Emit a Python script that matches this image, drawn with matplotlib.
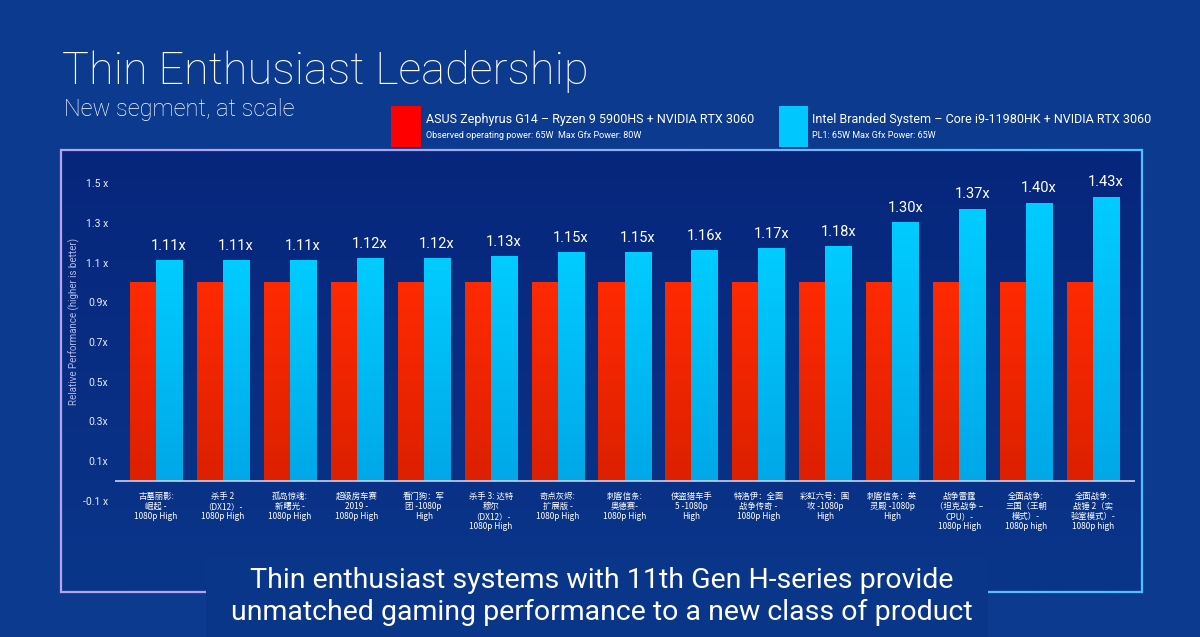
import numpy as np
import matplotlib.pyplot as plt
from matplotlib.patches import Rectangle
from matplotlib.colors import LinearSegmentedColormap, to_rgb

# ---------- Datos ----------
games = [
    "古墓丽影:\n崛起 -\n1080p High",
    "杀手 2\n（DX12）-\n1080p High",
    "孤岛惊魂:\n新曙光 -\n1080p High",
    "超级房车赛\n2019 -\n1080p High",
    "看门狗：军\n团 -1080p\nHigh",
    "杀手 3: 达特\n穆尔\n（DX12）-\n1080p High",
    "奇点灰烬:\n扩展版 -\n1080p High",
    "刺客信条:\n奥德赛-\n1080p High",
    "侠盗猎车手\n5 -1080p\nHigh",
    "特洛伊：全面\n战争传奇 -\n1080p High",
    "彩虹六号：围\n攻 -1080p\nHigh",
    "刺客信条：英\n灵殿 -1080p\nHigh",
    "战争雷霆\n（坦克战争 –\nCPU）-\n1080p High",
    "全面战争:\n三国（王朝\n模式）-\n1080p high",
    "全面战争:\n战锤 2（实\n验室模式）-\n1080p high",
]
asus_perf = [1.00, 1.00, 1.00, 1.00, 1.00, 1.00, 1.00, 1.00,
             1.00, 1.00, 1.00, 1.00, 1.00, 1.00, 1.00]
intel_perf = [1.11, 1.11, 1.11, 1.12, 1.12, 1.13, 1.15, 1.15,
              1.16, 1.17, 1.18, 1.30, 1.37, 1.40, 1.43]
ytick_vals = [-0.1, 0.1, 0.3, 0.5, 0.7, 0.9, 1.1, 1.3, 1.5]
ytick_labels = ["-0.1 x", "0.1x", "0.3x", "0.5x", "0.7x", "0.9x", "1.1 x", "1.3 x", "1.5 x"]

# ---------- Colores ----------
bg_out = "#0b3a8e"
bg_in_top, bg_in_bot = "#06267c", "#0a368a"
red_top, red_bot = "#ff2a00", "#dc2000"
blue_top, blue_bot = "#00ccff", "#00a8e8"
cjk = ["Noto Sans CJK SC", "DejaVu Sans"]
sans = ["Roboto", "DejaVu Sans"]

W, H = 1200, 637
fig = plt.figure(figsize=(12, 6.37), dpi=100)
fig.patch.set_facecolor(bg_out)

# ---------- Fondo / marco (coordenadas en pixeles) ----------
bg = fig.add_axes([0, 0, 1, 1])
bg.set_xlim(0, W)
bg.set_ylim(H, 0)
bg.axis("off")

fx0, fy0, fx1, fy1 = 61, 150, 1142, 592
inner = LinearSegmentedColormap.from_list("inner", [bg_in_top, bg_in_bot])
bg.imshow(np.linspace(0, 1, 128).reshape(-1, 1), cmap=inner, aspect="auto",
          extent=[fx0, fx1, fy1, fy0], zorder=1)
bg.set_xlim(0, W)
bg.set_ylim(H, 0)

lav = np.array(to_rgb("#b8a2ee"))
cyan = np.array(to_rgb("#49c2ff"))
n = 200
xs = np.linspace(fx0, fx1, n + 1)
for k in range(n):
    c = lav + (cyan - lav) * (k / n) ** 1.5
    bg.plot(xs[k:k + 2], [fy0, fy0], color=c, lw=1.6, solid_capstyle="butt", zorder=2)
    bg.plot(xs[k:k + 2], [fy1, fy1], color=c, lw=1.6, solid_capstyle="butt", zorder=2)
bg.plot([fx0, fx0], [fy0, fy1], color=lav, lw=1.6, zorder=2)
bg.plot([fx1, fx1], [fy0, fy1], color=cyan, lw=1.6, zorder=2)

# caja del texto inferior (tapa el borde del marco)
bg.add_patch(Rectangle((206, 556), 988 - 206, H - 556, fc="#0a368a", ec="none", zorder=5))

# titulos
bg.text(62, 84, "Thin Enthusiast Leadership", color="white", fontsize=32.5,
        family=sans, weight="light", va="baseline", ha="left")
bg.text(64, 116, "New segment, at scale", color="white", fontsize=17,
        family=sans, weight="light", va="baseline", ha="left")

# leyenda
bg.add_patch(Rectangle((391, 106), 30, 41, fc="#ff0000", ec="none"))
bg.add_patch(Rectangle((779, 106), 29, 41, fc="#00c8ff", ec="none"))
bg.text(426, 120, "ASUS Zephyrus G14 – Ryzen 9 5900HS + NVIDIA RTX 3060",
        color="white", fontsize=9, family=sans, va="center", ha="left")
bg.text(426, 136, "Observed operating power: 65W  Max Gfx Power: 80W",
        color="white", fontsize=6.5, family=sans, va="center", ha="left")
bg.text(812, 120, "Intel Branded System – Core i9-11980HK + NVIDIA RTX 3060",
        color="white", fontsize=9, family=sans, va="center", ha="left")
bg.text(812, 136, "PL1: 65W Max Gfx Power: 65W",
        color="white", fontsize=6.5, family=sans, va="center", ha="left")

# texto inferior
bg.text(602, 588, "Thin enthusiast systems with 11th Gen H-series provide",
        color="white", fontsize=20.5, family=sans, va="baseline", ha="center", zorder=6)
bg.text(602, 620, "unmatched gaming performance to a new class of product",
        color="white", fontsize=20.5, family=sans, va="baseline", ha="center", zorder=6)

# ---------- Grafico ----------
ax_l, ax_r, ax_t, ax_b = 115, 1135, 160, 510
ax = fig.add_axes([ax_l / W, (H - ax_b) / H, (ax_r - ax_l) / W, (ax_b - ax_t) / H])
ax.patch.set_alpha(0)
for s in ax.spines.values():
    s.set_visible(False)

x = np.arange(len(games))
w = 0.39
bars_r = ax.bar(x - w / 2, asus_perf, width=w, color=red_top, zorder=2)
bars_b = ax.bar(x + w / 2, intel_perf, width=w, color=blue_top, zorder=2)


def shade(bars, top, bot):
    cmap = LinearSegmentedColormap.from_list("g", [bot, top])
    grad = np.linspace(0, 1, 64).reshape(-1, 1)
    for b in bars:
        x0, hgt, wd = b.get_x(), b.get_height(), b.get_width()
        ax.imshow(grad, cmap=cmap, origin="lower", aspect="auto",
                  extent=[x0, x0 + wd, 0, hgt], zorder=3)


shade(bars_r, red_top, red_bot)
shade(bars_b, blue_top, blue_bot)

ax.set_xlim(-0.613, 14.627)
ax.set_ylim(-0.1461, 1.6171)
ax.axhline(0, color="#c8d0ea", lw=1.2, zorder=4)

for xi, v in zip(x, intel_perf):
    ax.text(xi + w / 2, v + 0.04, f"{v:.2f}x", color="white", fontsize=10.5,
            ha="center", va="bottom", family=sans)

ax.set_xticks([])
ax.set_yticks(ytick_vals)
ax.set_yticklabels(ytick_labels)
ax.tick_params(axis="y", length=0, pad=5, labelsize=7.5, labelcolor="#e8ecf8")
for lb in ax.get_yticklabels():
    lb.set_family(sans)

for xi, g in zip(x, games):
    ax.text(xi, 0.0514, g, transform=ax.get_xaxis_transform(), color="white",
            fontsize=6, family=cjk, ha="center", va="top", linespacing=1.15)

fig.text(74 / W, 1 - 321 / H, "Relative Performance (higher is better)", color="#b4bce6",
         fontsize=7, rotation=90, ha="center", va="center", family=sans)

plt.savefig("out.png", dpi=100, facecolor=fig.get_facecolor())
